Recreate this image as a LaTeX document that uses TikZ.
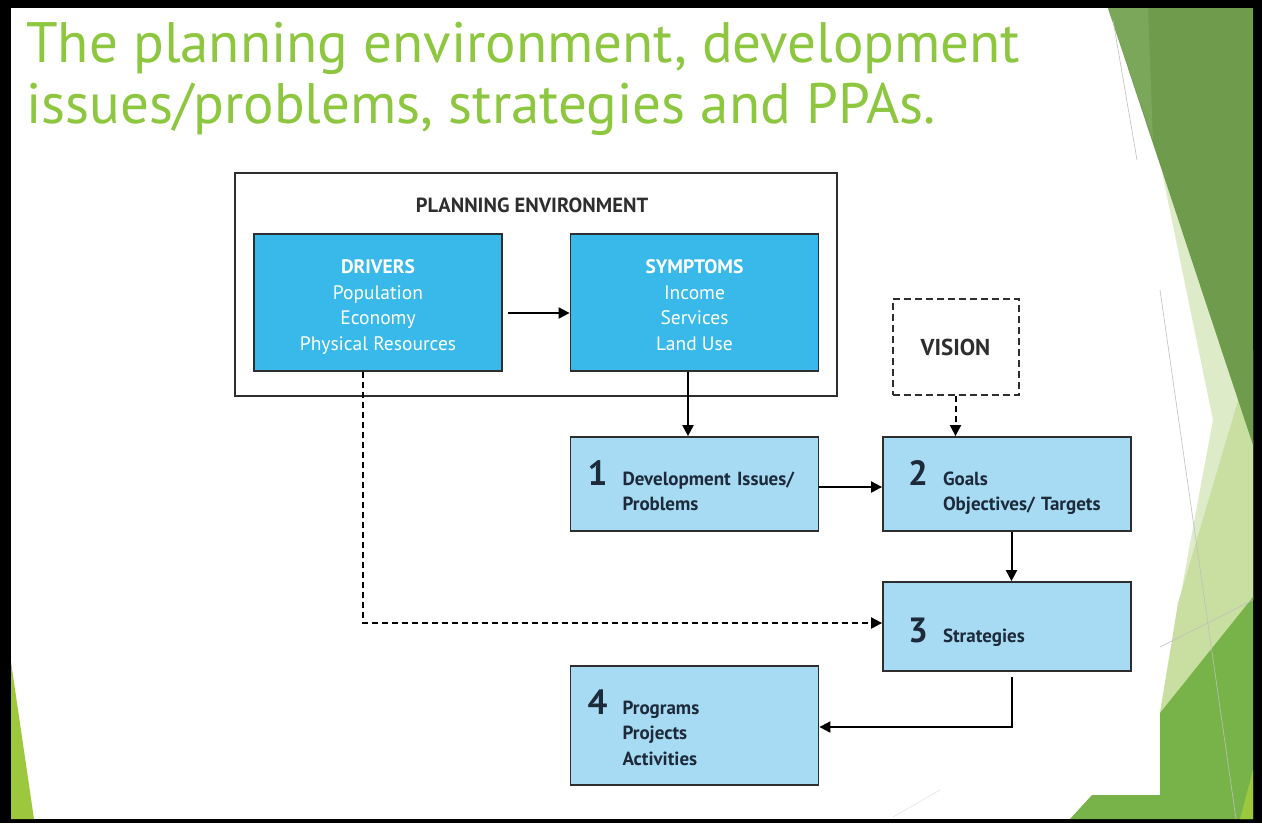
\documentclass[tikz,border=0pt]{standalone}
\usepackage{fontspec}
\setmainfont{PT Sans}
\usetikzlibrary{positioning, arrows.meta, calc}
\definecolor{titlegreen}{HTML}{8DC63F}
\definecolor{darkgreen}{HTML}{6E9B4C}
\definecolor{stripgreen}{HTML}{7BA75A}
\definecolor{midgreen}{HTML}{78B34A}
\definecolor{palegreen}{HTML}{DDEBC8}
\definecolor{softgreen}{HTML}{C9DFA1}
\definecolor{limegreen}{HTML}{9DC83E}
\definecolor{cyanfill}{HTML}{38B9EA}
\definecolor{lightfill}{HTML}{A7DBF3}
\definecolor{boxline}{HTML}{2E2E2E}
\definecolor{navy}{HTML}{1C2A3A}
\newcommand\boxnum[1]{\rule{0pt}{36pt}\makebox[35pt][l]{\fontsize{35}{35}\selectfont #1}}

\begin{document}
\begin{tikzpicture}[x=1pt,y=-1pt,on grid,
  title/.style={anchor=base west,inner sep=0pt,text=titlegreen,font=\fontsize{57}{61}\selectfont},
  cbox/.style={draw=boxline,line width=1.8pt,fill=cyanfill,minimum width=248pt,minimum height=137pt,
    text=white,align=center,font=\fontsize{19.5}{25.5}\selectfont},
  lbox/.style={draw=boxline,line width=1.8pt,fill=lightfill,text=navy,align=left,
    inner xsep=#1,text width=248pt-2*#1,font=\fontsize{19}{25.5}\selectfont\bfseries},
  arr/.style={line width=2pt,-{Triangle[length=11pt,width=11pt]}},
  dashedarr/.style={arr,dash pattern=on 6pt off 4pt}]
  \fill (0,0) rectangle (1262,823);
  \fill[white] (11,8) rectangle (1253,819);
  \fill[limegreen] (11,662) -- (34,819) -- (11,819) -- cycle;
  \fill[palegreen] (1162,172) -- (1253,440) -- (1253,600) -- (1160,713) -- (1187,560) -- (1213,420) -- cycle;
  \fill[softgreen] (1253,350) -- (1253,600) -- (1160,713) -- (1178,603) -- cycle;
  \fill[darkgreen] (1108,8) -- (1253,8) -- (1253,445) -- cycle;
  \fill[stripgreen] (1108,8) -- (1148,8) -- (1153,140) -- cycle;
  \fill[midgreen] (1160,713) -- (1253,597) -- (1253,819) -- (1070,819) -- (1092,795) -- (1160,795) -- cycle;
  \fill[limegreen] (1253,770) -- (1253,819) -- (1240,819) -- cycle;
  \draw[black!25,line width=0.6pt] (1113,20) -- (1137,160) (1160,290) -- (1236,819) (1160,647) -- (1253,600);
  \draw[black!10,line width=0.6pt] (893,817) -- (940,790);

  \node[title] (title1) at (26,62) {The planning environment, development};
  \node[title] (title2) at (26,123) {issues/problems, strategies and PPAs.};

  \node[draw=boxline,line width=1.8pt,minimum width=602pt,minimum height=223pt] (env) at (536,284.5) {};
  \node[text=boxline,font=\fontsize{20.5}{20.5}\selectfont\bfseries] (envlabel) at (532,205) {PLANNING ENVIRONMENT};
  \node[cbox] (drivers) at (378,302.5)
    {\rule{0pt}{27pt}\textbf{DRIVERS}\\Population\\Economy\\Physical Resources\strut};
  \node[cbox] (symptoms) [right=316.5pt of drivers]
    {\rule{0pt}{27pt}\textbf{SYMPTOMS}\\Income\\Services\\Land Use\strut};
  \node[lbox=17pt,minimum height=94pt] (issues) [below=181.5pt of symptoms]
    {\boxnum{1}\begin{tabular}[t]{@{}l@{}}Development Issues/\\Problems\end{tabular}};
  \node[lbox=25pt,minimum height=94pt] (goals) [right=312.5pt of issues]
    {\boxnum{2}\begin{tabular}[t]{@{}l@{}}Goals\\Objectives/ Targets\end{tabular}};
  \node[lbox=25pt,minimum height=89pt] (strategies) [below=142.5pt of goals]
    {\boxnum{3}Strategies};
  \node[lbox=17pt,minimum height=119pt] (programs) [below=241.5pt of issues]
    {\boxnum{4}\begin{tabular}[t]{@{}l@{}}Programs\\Projects\\Activities\end{tabular}};
  \node[draw=boxline,line width=2pt,dash pattern=on 7pt off 4pt,minimum width=126pt,minimum height=96pt,
    text=boxline,font=\fontsize{23}{23}\selectfont\bfseries] (vision) [above left=137pt and 51.5pt of goals] {VISION};

  \draw[arr] ([xshift=5pt,yshift=-10.5pt]drivers.east) -- ([yshift=-10.5pt]symptoms.west);
  \draw[arr] ([xshift=-6.5pt]symptoms.south) -- ([xshift=-6.5pt]issues.north);
  \draw[arr] ([yshift=-3pt]issues.east) -- ([yshift=-3pt]goals.west);
  \draw[dashedarr] (vision.south) -- (vision.south |- goals.north);
  \draw[arr] ([xshift=4.5pt]goals.south) -- ([xshift=4.5pt]strategies.north);
  \draw[dashedarr] ([xshift=-15pt]drivers.south) |- ([yshift=3.5pt]strategies.west);
  \draw[arr] ([xshift=4.5pt,yshift=-5pt]strategies.south) |- ([yshift=-1.5pt]programs.east);
\end{tikzpicture}
\end{document}
